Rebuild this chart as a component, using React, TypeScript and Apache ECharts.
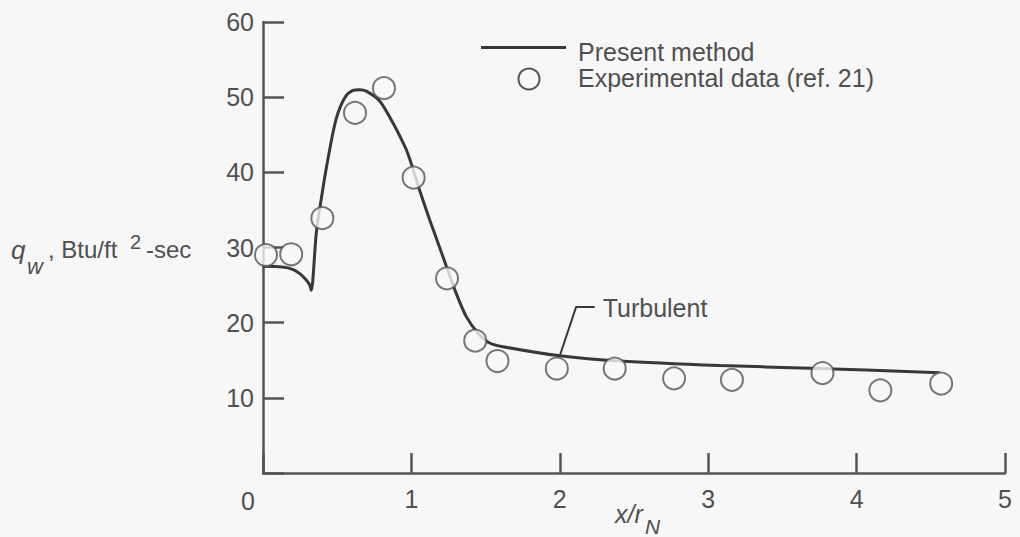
import React, { useEffect, useRef } from 'react';
import * as echarts from 'echarts';

// Present method curve
const curveX = [0, 0.13, 0.2, 0.25, 0.29, 0.315, 0.325, 0.359, 0.392, 0.437, 0.493, 0.55, 0.606, 0.651, 0.696, 0.786, 0.875, 0.92, 0.966, 1.005, 1.044, 1.123, 1.212, 1.3, 1.37, 1.449, 1.527, 1.617, 2.0, 2.404, 3.078, 3.685, 4.56];
const curveY = [27.5, 27.4, 27.1, 26.5, 25.7, 25.0, 24.3, 31.9, 36.4, 41.7, 47.1, 49.9, 50.9, 51.0, 50.8, 49.5, 46.6, 44.9, 43.0, 40.8, 38.3, 33.7, 28.8, 24.0, 20.8, 18.6, 17.3, 16.8, 15.6, 14.9, 14.3, 13.95, 13.35];

// Experimental data (ref. 21)
const expX = [0.02, 0.19, 0.4, 0.62, 0.815, 1.015, 1.24, 1.43, 1.58, 1.98, 2.37, 2.77, 3.16, 3.77, 4.16, 4.57];
const expY = [29.0, 29.1, 33.9, 47.9, 51.2, 39.3, 25.9, 17.6, 14.9, 13.9, 13.9, 12.6, 12.4, 13.3, 11.0, 11.9];

// "Turbulent" annotation leader
const leaderX = [2.0, 2.11, 2.235];
const leaderY = [15.6, 22.1, 22.1];

const BG = '#f7f7f7';
const TXT = '#505050';
const AX = '#555555';
const LINE = '#383838';
const FONT = 'Liberation Sans';

function txt(x: number, y: number, text: string, size: number, italic = false, align = 'left') {
  return {
    type: 'text', x, y,
    style: {
      text, fill: TXT, fontSize: size, fontFamily: FONT, lineHeight: Math.round(size * 0.95),
      fontStyle: italic ? 'italic' : 'normal', align, verticalAlign: 'middle',
    },
  };
}

export default function App() {
  const ref = useRef<HTMLDivElement>(null);
  useEffect(() => {
    if (!ref.current) return;
    const chart = echarts.init(ref.current, undefined, { renderer: 'svg' });
    const curve = curveX.map((x, i) => [x, curveY[i]]);
    const exp = expX.map((x, i) => [x, expY[i]]);
    const leader = leaderX.map((x, i) => [x, leaderY[i]]);
    chart.setOption({
      animation: false,
      backgroundColor: BG,
      textStyle: { fontFamily: FONT },
      grid: { left: 263, right: 15, top: 22, bottom: 64, containLabel: false },
      xAxis: {
        type: 'value', min: 0, max: 5, interval: 1,
        axisLine: { show: true, onZero: false, lineStyle: { color: AX, width: 2.5 } },
        axisTick: { show: true, inside: true, length: 20, lineStyle: { color: AX, width: 2.5 } },
        axisLabel: { color: TXT, fontSize: 25, margin: 13, fontFamily: FONT, formatter: (v: number) => (v === 0 ? '' : String(v)) },
        splitLine: { show: false },
      },
      yAxis: {
        type: 'value', min: 0, max: 60, interval: 10,
        axisLine: { show: true, lineStyle: { color: AX, width: 2.5 } },
        axisTick: { show: true, inside: true, length: 21, lineStyle: { color: AX, width: 2.5 } },
        axisLabel: { color: TXT, fontSize: 25, margin: 9, fontFamily: FONT, formatter: (v: number) => (v === 0 ? '' : String(v)) },
        splitLine: { show: false },
      },
      series: [
        {
          type: 'line', data: curve, showSymbol: false, symbol: 'none', smooth: 0.3,
          lineStyle: { color: LINE, width: 3 }, z: 2, silent: true,
        },
        {
          type: 'line', data: leader, showSymbol: false, symbol: 'none',
          lineStyle: { color: LINE, width: 2 }, z: 2, silent: true,
        },
        {
          type: 'scatter', data: exp, symbol: 'circle', symbolSize: 22,
          itemStyle: { color: BG, borderColor: AX, borderWidth: 2 }, z: 3, silent: true,
        },
      ],
    });
    const tp = chart.convertToPixel({ gridIndex: 0 }, [leaderX[2], leaderY[2]]) as number[];
    chart.setOption({
      graphic: [
        // legend
        { type: 'line', shape: { x1: 481, y1: 47.5, x2: 566, y2: 47.5 }, style: { stroke: LINE, lineWidth: 3 } },
        txt(578, 52, 'Present method', 25),
        { type: 'circle', shape: { cx: 529, cy: 79, r: 10.5 }, style: { fill: BG, stroke: AX, lineWidth: 2 } },
        txt(578, 78, 'Experimental data (ref. 21)', 25),
        // annotation
        txt(tp[0] + 8, tp[1] + 1, 'Turbulent', 25),
        // shared origin label
        txt(248, 501, '0', 25, false, 'center'),
        // y-axis title
        txt(11, 250, 'q', 26, true),
        txt(27, 266, 'w', 22, true),
        txt(48, 249, ', Btu/ft', 24),
        txt(130, 242, '2', 20),
        txt(146, 249, '-sec', 24),
        // x-axis title
        txt(615, 514, 'x/r', 25, true),
        txt(645, 526, 'N', 21, true),
      ],
    });
    return () => chart.dispose();
  }, []);
  return <div ref={ref} style={{ position: 'absolute', left: 0, top: 0, width: 1020, height: 537 }} />;
}
